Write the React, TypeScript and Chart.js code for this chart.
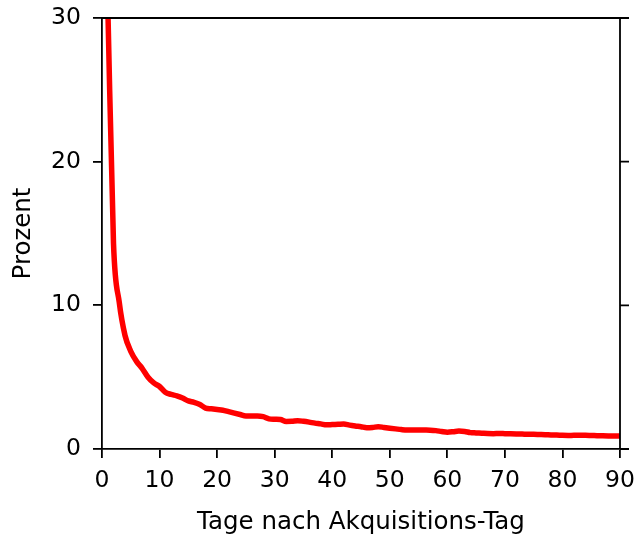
import React, { useEffect, useRef } from "react";
import { Chart, registerables } from "chart.js";

Chart.register(...registerables);

const days: number[] = Array.from({ length: 90 }, (_, i) => i + 1);
const percent: number[] = [
  31, 14.3, 10.2, 7.9, 6.8, 6.1, 5.6, 5.0, 4.6, 4.35,
  3.95, 3.8, 3.7, 3.55, 3.35, 3.25, 3.1, 2.85, 2.8, 2.75,
  2.7, 2.6, 2.5, 2.4, 2.3, 2.3, 2.3, 2.25, 2.1, 2.07,
  2.05, 1.92, 1.93, 1.97, 1.93, 1.87, 1.8, 1.75, 1.68, 1.7,
  1.72, 1.74, 1.66, 1.6, 1.55, 1.48, 1.5, 1.55, 1.5, 1.45,
  1.4, 1.35, 1.32, 1.33, 1.33, 1.32, 1.31, 1.28, 1.22, 1.17,
  1.2, 1.25, 1.22, 1.14, 1.12, 1.1, 1.08, 1.07, 1.08, 1.07,
  1.06, 1.05, 1.04, 1.02, 1.02, 1.01, 1.0, 0.98, 0.97, 0.95,
  0.94, 0.95, 0.95, 0.95, 0.94, 0.93, 0.92, 0.91, 0.9, 0.9,
];
const xTicks: number[] = [0, 10, 20, 30, 40, 50, 60, 70, 80, 90];
const yTicks: number[] = [0, 10, 20, 30];
const xTitle = "Tage nach Akquisitions-Tag";
const yTitle = "Prozent";

const FONT = "'DejaVu Sans', sans-serif";
const AXIS_W = 1.8;

const framePlugin = {
  id: "frame",
  afterDraw(chart: any) {
    const { ctx, chartArea } = chart;
    const y = chart.scales.y;
    ctx.save();
    ctx.strokeStyle = "#000";
    ctx.lineWidth = AXIS_W;
    ctx.beginPath();
    ctx.moveTo(chartArea.left, chartArea.top);
    ctx.lineTo(chartArea.right, chartArea.top);
    ctx.moveTo(chartArea.right, chartArea.top);
    ctx.lineTo(chartArea.right, chartArea.bottom);
    for (const v of yTicks) {
      const py = y.getPixelForValue(v);
      ctx.moveTo(chartArea.right, py);
      ctx.lineTo(chartArea.right + 9, py);
    }
    ctx.stroke();
    ctx.restore();
  },
};

const zeroPad = (s: any) => {
  s.paddingLeft = 0;
  s.paddingRight = 0;
  s.paddingTop = 0;
  s.paddingBottom = 0;
};

export default function App() {
  const ref = useRef<HTMLCanvasElement | null>(null);
  useEffect(() => {
    if (!ref.current) return;
    const chart = new Chart(ref.current, {
      type: "line",
      data: {
        datasets: [
          {
            data: days.map((d, i) => ({ x: d, y: percent[i] })),
            borderColor: "#ff0000",
            borderWidth: 5.5,
            pointRadius: 0,
            fill: false,
            cubicInterpolationMode: "monotone",
            clip: 0,
          } as any,
        ],
      },
      options: {
        animation: false,
        responsive: false,
        devicePixelRatio: 1,
        layout: { padding: { top: 18, right: 15, left: 0, bottom: 0 } },
        plugins: { legend: { display: false }, tooltip: { enabled: false } },
        scales: {
          x: {
            type: "linear",
            min: 0,
            max: 90,
            afterBuildTicks: (s: any) => {
              s.ticks = xTicks.map((v) => ({ value: v }));
            },
            afterFit: (s: any) => {
              s.height = 87;
              zeroPad(s);
            },
            ticks: {
              color: "#000",
              font: { family: FONT, size: 23.5 },
              padding: 9,
              maxRotation: 0,
            },
            grid: {
              drawOnChartArea: false,
              drawTicks: true,
              tickLength: 9,
              color: "#000",
              lineWidth: AXIS_W,
            },
            border: { display: true, color: "#000", width: AXIS_W },
            title: {
              display: true,
              text: xTitle,
              color: "#000",
              font: { family: FONT, size: 24.5 },
              padding: { top: 0, bottom: -1 },
            },
          },
          y: {
            type: "linear",
            min: 0,
            max: 30,
            afterBuildTicks: (s: any) => {
              s.ticks = yTicks.map((v) => ({ value: v }));
            },
            afterFit: (s: any) => {
              s.width = 102;
              zeroPad(s);
            },
            ticks: {
              color: "#000",
              font: { family: FONT, size: 23.5 },
              padding: 12,
            },
            grid: {
              drawOnChartArea: false,
              drawTicks: true,
              tickLength: 9,
              color: "#000",
              lineWidth: AXIS_W,
            },
            border: { display: true, color: "#000", width: AXIS_W },
            title: {
              display: true,
              text: yTitle,
              color: "#000",
              font: { family: FONT, size: 24.5 },
              padding: { top: 9, bottom: 0 },
            },
          },
        },
      },
      plugins: [framePlugin],
    });
    return () => chart.destroy();
  }, []);
  return (
    <div style={{ position: "absolute", left: 0, top: 0, width: 635, height: 536, background: "#fff" }}>
      <canvas ref={ref} width={635} height={536} style={{ display: "block", width: 635, height: 536 }} />
    </div>
  );
}
